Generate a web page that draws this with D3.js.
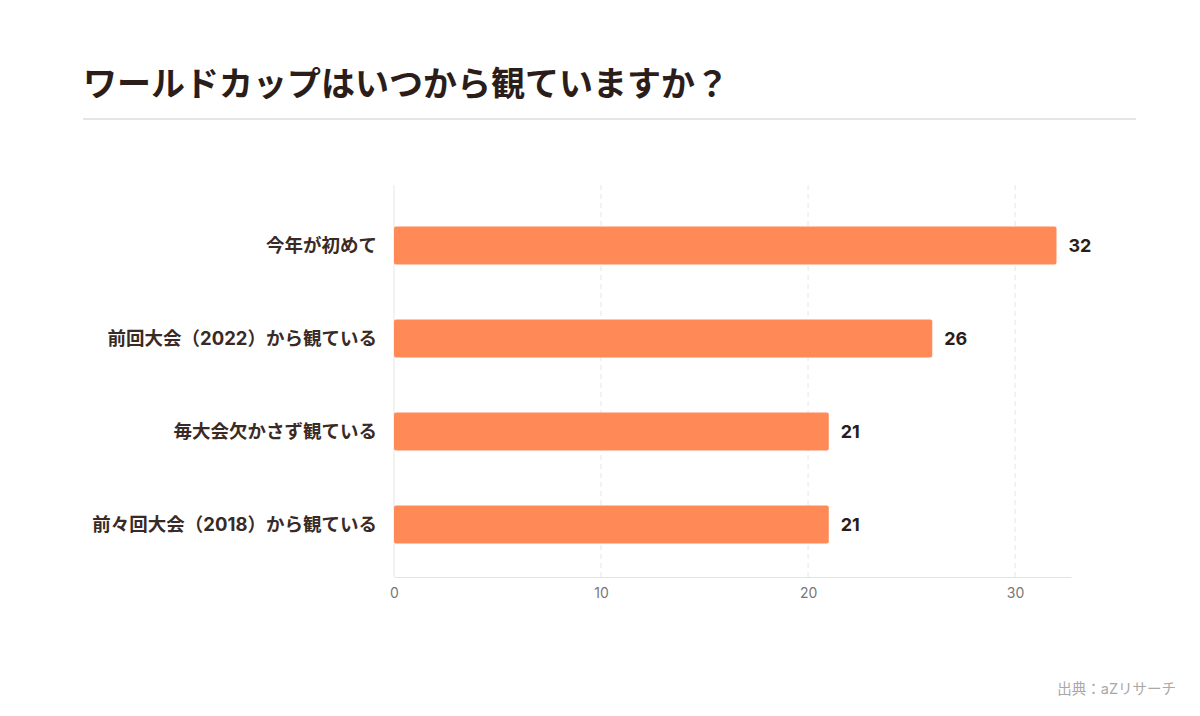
<!DOCTYPE html>
<html>
<head>
<meta charset="utf-8">
<script src="https://cdn.jsdelivr.net/npm/d3@7"></script>
<style>
  body { margin: 0; background: #fff; }
  svg { display: block; font-family: Inter, "Noto Sans CJK JP", "Noto Sans", sans-serif; }
</style>
</head>
<body>
<svg id="chart" width="1200" height="716"></svg>
<script>
// data
var categories = ["今年が初めて", "前回大会（2022）から観ている", "毎大会欠かさず観ている", "前々回大会（2018）から観ている"];
var values = [32, 26, 21, 21];
var xTicks = [0, 10, 20, 30];

var svg = d3.select("#chart");

// title + rule
svg.append("text")
  .attr("x", 83).attr("y", 96)
  .style("font-size", "34px").style("font-weight", 700)
  .style("fill", "#2b1d1a")
  .text("ワールドカップはいつから観ていますか？");

svg.append("line")
  .attr("x1", 83).attr("x2", 1136).attr("y1", 119).attr("y2", 119)
  .style("stroke", "#dcdcdc").style("stroke-width", 1.5);

var x = d3.scaleLinear().domain([0, 32.7]).range([394, 1071]);
var y = d3.scaleBand().domain(categories).range([199, 571]).paddingInner(0.59).paddingOuter(0.295);

var gridTop = 185, gridBottom = 577;

// grid
svg.selectAll(".grid").data(xTicks).enter().append("line")
  .attr("x1", function(d) { return x(d); })
  .attr("x2", function(d) { return x(d); })
  .attr("y1", gridTop).attr("y2", gridBottom)
  .style("stroke", "#e6e6e6")
  .style("stroke-dasharray", function(d) { return d == 0 ? null : "5,4"; });

// axis
var xAxis = d3.axisBottom(x).tickValues(xTicks).tickSize(0).tickPadding(11);
var ax = svg.append("g").attr("transform", "translate(0," + gridBottom + ")").call(xAxis);
ax.select(".domain").style("stroke", "#e3e3e3");
ax.selectAll("text").style("font-size", "14px").style("fill", "#777")
  .style("font-family", "Inter, 'Noto Sans', sans-serif");

// bars
svg.selectAll(".bar").data(values).enter().append("rect")
  .attr("x", x(0))
  .attr("y", function(d, i) { return y(categories[i]); })
  .attr("width", function(d) { return x(d) - x(0); })
  .attr("height", y.bandwidth())
  .attr("rx", 2)
  .style("fill", "#ff8a58");

// value labels
svg.selectAll(".val").data(values).enter().append("text")
  .attr("x", function(d) { return x(d) + 12; })
  .attr("y", function(d, i) { return y(categories[i]) + y.bandwidth() / 2; })
  .attr("dy", "0.35em")
  .style("font-size", "18px").style("font-weight", 700).style("fill", "#2b1d1a")
  .text(function(d) { return d; });

// category labels
svg.selectAll(".cat").data(categories).enter().append("text")
  .attr("x", 377)
  .attr("y", function(d) { return y(d) + y.bandwidth() / 2; })
  .attr("dy", "0.35em")
  .attr("text-anchor", "end")
  .style("font-size", "18.5px").style("font-weight", 700).style("fill", "#3a2a26")
  .text(function(d) { return d; });

// source
svg.append("text")
  .attr("x", 1176).attr("y", 694)
  .attr("text-anchor", "end")
  .style("font-size", "14.5px").style("fill", "#a8a8a8")
  .text("出典：aZリサーチ");
</script>
</body>
</html>
